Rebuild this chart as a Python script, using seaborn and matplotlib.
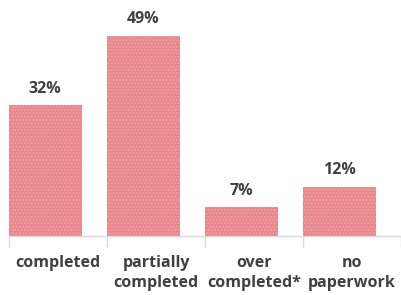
import numpy as np
import pandas as pd
import seaborn as sns
import matplotlib.pyplot as plt

categories = ['completed', 'partially\ncompleted', 'over\ncompleted*', 'no\npaperwork']
values = [32, 49, 7, 12]
value_labels = ['32%', '49%', '7%', '12%']

df = pd.DataFrame({'cat': categories, 'val': values})

sns.set_style('white')
plt.rcParams['font.family'] = ['Open Sans', 'DejaVu Sans']

fig = plt.figure(figsize=(4.01, 2.95), dpi=100)
# axes bottom at y=236 px from top, 49% bar top at y=36
ax = fig.add_axes([9 / 401, 59 / 295, 392 / 401, (200 / 49 * 56) / 295])

sns.barplot(data=df, x='cat', y='val', color='#E8868B', width=0.74,
            saturation=1, ax=ax)
for p in ax.patches:
    p.set_hatch('.....')
    p.set_edgecolor('#EFA3A6')
    p.set_linewidth(0)

for i, (v, lab) in enumerate(zip(values, value_labels)):
    ax.text(i, v + 2.1, lab, ha='center', va='bottom', fontsize=11.5,
            fontweight='bold', color='#404040')

ax.set_xlim(-0.37, 3.63)
ax.set_ylim(0, 56)
ax.set_xticks(np.arange(4) + 0.13)
ax.set_xticklabels(categories, fontsize=11.5, fontweight='bold', color='#404040',
                   linespacing=1.3)
ax.set_xticks(np.arange(5) - 0.37, minor=True)
ax.tick_params(axis='x', which='major', length=0, pad=14)
ax.tick_params(axis='x', which='minor', length=8, color='#D9D9D9', width=1,
               direction='out', bottom=True)
for t in ax.get_xticklabels():
    t.set_va('top')
ax.set_yticks([])
ax.set_xlabel('')
ax.set_ylabel('')
for s in ['top', 'left', 'right']:
    ax.spines[s].set_visible(False)
ax.spines['bottom'].set_color('#D9D9D9')
ax.spines['bottom'].set_linewidth(1)

fig.savefig('out.png', dpi=100)
